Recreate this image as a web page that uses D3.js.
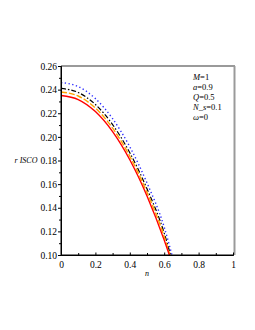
<!DOCTYPE html>
<html>
<head>
<meta charset="utf-8">
<script src="https://cdn.jsdelivr.net/npm/d3@7"></script>
<style>
    body { margin: 0; background: #fff; }
    svg text { font-family: "Liberation Serif", "Times New Roman", serif; }
</style>
</head>
<body>
<div id="chart"></div>
<script>
    // n values
    var nRed = [0, 0.1, 0.2, 0.3, 0.4, 0.5, 0.6, 0.63];
    var rRed = [0.235, 0.2316, 0.2214, 0.2044, 0.1806, 0.150, 0.1126, 0.100];
    var nOrange = [0, 0.1, 0.2, 0.3, 0.4, 0.5, 0.6, 0.633];
    var rOrange = [0.238, 0.2346, 0.2244, 0.2074, 0.1836, 0.153, 0.1156, 0.100];
    var nBlack = [0, 0.1, 0.2, 0.3, 0.4, 0.5, 0.6, 0.637];
    var rBlack = [0.241, 0.2376, 0.2274, 0.2104, 0.1866, 0.156, 0.1186, 0.100];
    var nBlue = [0, 0.1, 0.2, 0.3, 0.4, 0.5, 0.6, 0.645];
    var rBlue = [0.246, 0.2426, 0.2324, 0.2154, 0.1916, 0.161, 0.1236, 0.100];

    var xTicks = [0, 0.2, 0.4, 0.6, 0.8, 1];
    var yTicks = [0.10, 0.12, 0.14, 0.16, 0.18, 0.20, 0.22, 0.24, 0.26];
    var legendLines = ["M=1", "a=0.9", "Q=0.5", "N_s=0.1", "ω=0"];

    var width = 255, height = 330;
    var svg = d3.select("#chart").append("svg")
        .attr("width", width)
        .attr("height", height);

    var x = d3.scaleLinear().domain([0, 1]).range([61, 233]);
    var y = d3.scaleLinear().domain([0.10, 0.26]).range([255, 66]);

    // gray frame top & right
    svg.append("line")
        .attr("x1", x(0)).attr("x2", 235)
        .attr("y1", y(0.26)).attr("y2", y(0.26))
        .attr("stroke", "#9a9a9a").attr("stroke-width", 2);
    svg.append("line")
        .attr("x1", 234.5).attr("x2", 234.5)
        .attr("y1", y(0.26)).attr("y2", y(0.10))
        .attr("stroke", "#9a9a9a").attr("stroke-width", 2);

    var line = d3.line()
        .x(function (d) { return x(d[0]); })
        .y(function (d) { return y(d[1]); })
        .curve(d3.curveMonotoneX);

    var series = [
        { n: nRed, r: rRed, color: "#ff0000", dash: null, w: 1.4 },
        { n: nOrange, r: rOrange, color: "#ffa500", dash: "6,2", w: 1.4 },
        { n: nBlack, r: rBlack, color: "#000000", dash: "5,2,1.5,2", w: 1.2 },
        { n: nBlue, r: rBlue, color: "#2b2bff", dash: "1.3,2.5", w: 1.4 }
    ];

    var g = svg.append("g");
    series.slice().reverse().forEach(function (s) {
        g.append("path")
            .datum(d3.zip(s.n, s.r))
            .attr("d", line)
            .attr("fill", "none")
            .attr("stroke", s.color)
            .attr("stroke-width", s.w)
            .attr("stroke-dasharray", s.dash);
    });

    // y axis
    var yAxis = svg.append("g")
        .attr("transform", "translate(" + x(0) + ",0)")
        .call(d3.axisLeft(y).tickValues(yTicks).tickSize(3).tickFormat(d3.format(".2f")));
    yAxis.append("g")
        .call(d3.axisLeft(y).tickValues(d3.range(0.11, 0.26, 0.02)).tickSize(2).tickFormat(""));
    yAxis.select(".domain").remove();
    yAxis.append("line")
        .attr("x1", 0).attr("x2", 0)
        .attr("y1", y(0.26)).attr("y2", y(0.10) + 0.5)
        .attr("stroke", "#000");
    yAxis.selectAll("text")
        .attr("font-size", 9.5)
        .attr("x", -4)
        .attr("dy", "0.33em")
        .attr("font-family", "Liberation Serif, serif");

    // x axis (ticks point inward)
    var xAxis = svg.append("g")
        .attr("transform", "translate(0," + y(0.10) + ")")
        .call(d3.axisBottom(x).tickValues(xTicks).tickSize(-2.5).tickFormat(d3.format("")));
    xAxis.append("g")
        .call(d3.axisBottom(x).tickValues(d3.range(0.1, 1, 0.2)).tickSize(-2).tickFormat(""));
    xAxis.select(".domain").remove();
    xAxis.append("line")
        .attr("x1", x(0)).attr("x2", 234)
        .attr("stroke", "#000");
    xAxis.selectAll("text")
        .attr("font-size", 9.5)
        .attr("y", 6)
        .attr("dy", "0.71em")
        .attr("font-family", "Liberation Serif, serif");
    svg.selectAll(".tick line").attr("stroke", "#000");

    // axis titles
    svg.append("text")
        .attr("x", 26).attr("y", 163)
        .attr("text-anchor", "middle")
        .attr("font-size", 8)
        .attr("font-style", "italic")
        .text("r ISCO");
    svg.append("text")
        .attr("x", 147).attr("y", 276)
        .attr("text-anchor", "middle")
        .attr("font-size", 8)
        .attr("font-style", "italic")
        .text("n");

    // parameter legend
    var leg = svg.append("g").attr("font-size", 8.5);
    legendLines.forEach(function (t, i) {
        var parts = t.split("=");
        var tx = leg.append("text")
            .attr("x", 193)
            .attr("y", 80 + i * 10);
        tx.append("tspan").attr("font-style", "italic").text(parts[0]);
        tx.append("tspan").text("=" + parts[1]);
    });
</script>
</body>
</html>
